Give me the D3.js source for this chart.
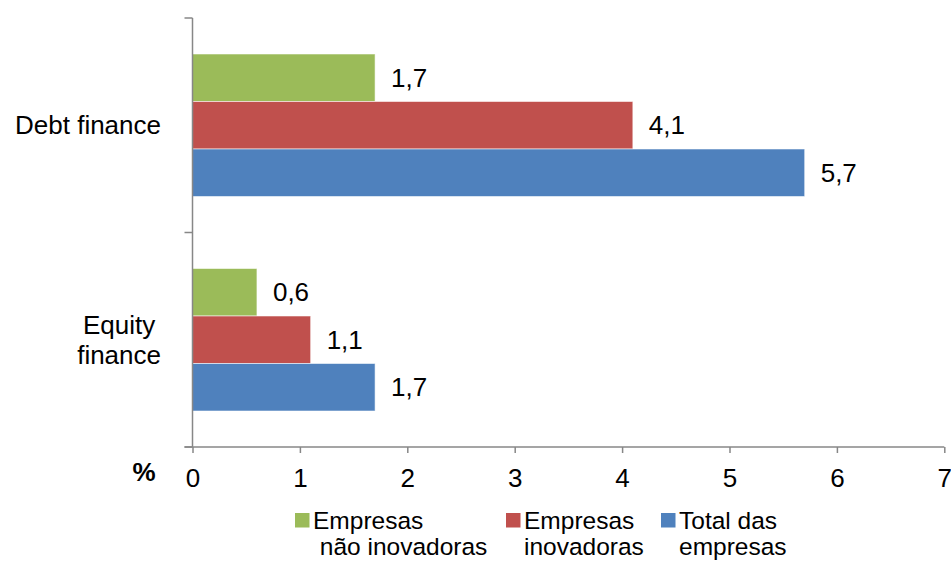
<!DOCTYPE html>
<html>
<head>
<meta charset="utf-8">
<script src="https://cdn.jsdelivr.net/npm/d3@7"></script>
<style>
  html, body { margin: 0; padding: 0; background: #fff; }
  svg { display: block; font-family: "Liberation Sans", Arial, sans-serif; }
</style>
</head>
<body>
<svg id="chart" width="951" height="561"></svg>
<script>
// ---- data ----
const categories = ["Debt finance", "Equity finance"];
const categoryLines = [["Debt finance"], ["Equity", "finance"]];
const seriesNames = ["Empresas não inovadoras", "Empresas inovadoras", "Total das empresas"];
const legendLines = [["Empresas", " não inovadoras"], ["Empresas", "inovadoras"], ["Total das", "empresas"]];
const seriesValues = [
  [1.7, 0.6],   // Empresas não inovadoras
  [4.1, 1.1],   // Empresas inovadoras
  [5.7, 1.7]    // Total das empresas
];
const xTicks = [0, 1, 2, 3, 4, 5, 6, 7];
const colors = ["#9BBB59", "#C0504D", "#4F81BD"];

// ---- layout ----
const svg = d3.select("#chart");
const x0 = 192.5, x1 = 944.3, yTop = 18, yBot = 447;
const fontSize = 26;
const axisColor = "#878787";

const x = d3.scaleLinear().domain([0, 7]).range([x0, x1]);
const p = 0.3357;
const y = d3.scaleBand().domain(categories).range([yTop, yBot]).paddingInner(p).paddingOuter(p / 2);
const ySub = d3.scaleBand().domain(d3.range(seriesNames.length)).range([0, y.bandwidth()]);

// bars
const g = svg.append("g");
seriesNames.forEach((s, si) => {
  categories.forEach((c, ci) => {
    const v = seriesValues[si][ci];
    g.append("rect")
      .attr("x", x(0))
      .attr("y", y(c) + ySub(si))
      .attr("width", x(v) - x(0))
      .attr("height", ySub.bandwidth())
      .attr("fill", colors[si])
      .attr("stroke", "rgba(255,255,255,0.55)")
      .attr("stroke-width", 1);
    g.append("text")
      .attr("x", x(v) + 16)
      .attr("y", y(c) + ySub(si) + ySub.bandwidth() / 2 + 9)
      .attr("font-size", fontSize)
      .attr("fill", "#000")
      .text(d3.format(".1f")(v).replace(".", ","));
  });
});

// y axis (category boundaries)
const yAxis = svg.append("g");
yAxis.append("line")
  .attr("x1", x0).attr("x2", x0).attr("y1", yTop).attr("y2", yBot)
  .attr("stroke", axisColor).attr("stroke-width", 1.5);
d3.range(categories.length + 1).forEach(i => {
  const yy = yTop + i * y.step();
  yAxis.append("line")
    .attr("x1", x0 - 8).attr("x2", x0).attr("y1", yy).attr("y2", yy)
    .attr("stroke", axisColor).attr("stroke-width", 1.5);
});

// category labels
const labelRight = 161;
categories.forEach((c, ci) => {
  const lines = categoryLines[ci];
  const cy = y(c) + y.bandwidth() / 2;
  const t = svg.append("text").attr("font-size", fontSize).attr("fill", "#000");
  const spans = lines.map((ln, li) =>
    t.append("tspan")
      .attr("y", cy + 8.8 + (li - (lines.length - 1) / 2) * 30)
      .text(ln));
  const maxW = d3.max(spans, s => s.node().getComputedTextLength());
  spans.forEach(s => s.attr("x", labelRight - maxW / 2).attr("text-anchor", "middle"));
});

// x axis
const xAxis = svg.append("g")
  .attr("transform", `translate(0,${yBot})`)
  .call(d3.axisBottom(x).tickValues(xTicks).tickSize(6).tickFormat(d3.format("d")));
xAxis.select(".domain").attr("stroke", axisColor).attr("stroke-width", 1.5)
  .attr("d", `M${x0 - 8},0H${x1}`);
xAxis.selectAll(".tick line").attr("stroke", axisColor).attr("stroke-width", 1.5);
xAxis.selectAll(".tick text")
  .attr("y", 40).attr("dy", 0)
  .attr("font-size", fontSize)
  .attr("font-family", '"Liberation Sans", Arial, sans-serif')
  .attr("fill", "#000");

// % label
svg.append("text")
  .attr("x", 144).attr("y", 481)
  .attr("text-anchor", "middle")
  .attr("font-size", fontSize)
  .attr("font-weight", "bold")
  .text("%");

// legend
const legendX = [295, 506, 661];
const legend = svg.append("g");
seriesNames.forEach((s, si) => {
  legend.append("rect")
    .attr("x", legendX[si]).attr("y", 513)
    .attr("width", 14.5).attr("height", 14.5)
    .attr("fill", colors[si]);
  const t = legend.append("text")
    .attr("font-size", 24.5)
    .attr("fill", "#000")
    .attr("xml:space", "preserve")
    .style("white-space", "pre");
  legendLines[si].forEach((ln, li) => {
    t.append("tspan")
      .attr("x", legendX[si] + 18)
      .attr("y", 528.5 + li * 26.5)
      .text(ln);
  });
});
</script>
</body>
</html>
